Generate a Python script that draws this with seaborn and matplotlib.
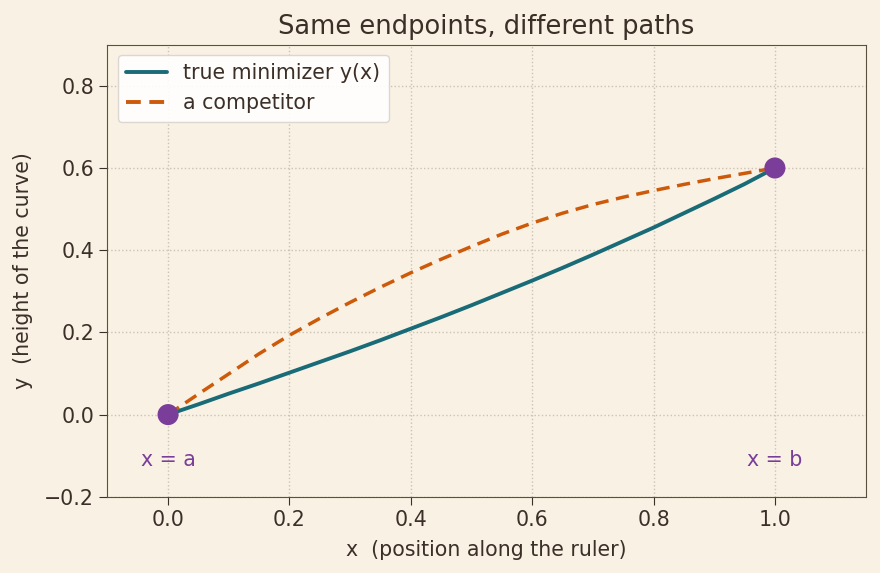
import numpy as np
import pandas as pd
import matplotlib
matplotlib.use("Agg")
import matplotlib.pyplot as plt
import seaborn as sns

# values
x_vals = [0.0, 0.05, 0.1, 0.15, 0.2, 0.25, 0.3, 0.35, 0.4, 0.45, 0.5,
          0.55, 0.6, 0.65, 0.7, 0.75, 0.8, 0.85, 0.9, 0.95, 1.0]
y_true = [0.0, 0.025, 0.051, 0.076, 0.102, 0.128, 0.154, 0.181, 0.209, 0.237, 0.266,
          0.296, 0.326, 0.357, 0.389, 0.422, 0.455, 0.490, 0.525, 0.561, 0.6]
y_comp = [0.0, 0.050, 0.099, 0.148, 0.193, 0.234, 0.273, 0.310, 0.345, 0.378, 0.409,
          0.439, 0.466, 0.490, 0.511, 0.529, 0.545, 0.560, 0.574, 0.587, 0.6]
end_x = [0.0, 1.0]
end_y = [0.0, 0.6]
end_labels = ["x = a", "x = b"]
yticks = [-0.2, 0.0, 0.2, 0.4, 0.6, 0.8]

bg = "#f9f2e4"
ink = "#3b2f27"
teal = "#1a6b78"
orange = "#cc5a0a"
purple = "#7a3d9a"
gridc = "#cbc3b5"

sns.set_style("ticks", {
    "axes.facecolor": bg,
    "figure.facecolor": bg,
    "axes.edgecolor": "#5b5040",
    "axes.grid": True,
    "grid.color": gridc,
    "grid.linestyle": ":",
    "text.color": ink,
    "axes.labelcolor": ink,
    "xtick.color": ink,
    "ytick.color": ink,
})
plt.rcParams["font.family"] = ["DejaVu Sans"]

df_true = pd.DataFrame({"x": x_vals, "y": y_true})
df_comp = pd.DataFrame({"x": x_vals, "y": y_comp})
df_end = pd.DataFrame({"x": end_x, "y": end_y})

fs = 14.8
dash = (0, (3.8, 2.2))

fig, ax = plt.subplots(figsize=(8.8, 5.73), dpi=100)

sns.lineplot(data=df_true, x="x", y="y", ax=ax, color=teal, lw=2.8,
             label="true minimizer y(x)", sort=False)
sns.lineplot(data=df_comp, x="x", y="y", ax=ax, color=orange, lw=2.5,
             label="a competitor", sort=False)
ax.lines[-1].set_linestyle(dash)
sns.scatterplot(data=df_end, x="x", y="y", ax=ax, color=purple, s=230,
                edgecolor="none", zorder=5)

for xe, lab in zip(end_x, end_labels):
    ax.text(xe, -0.11, lab, color=purple, fontsize=fs, ha="center", va="center")

ax.set_xlim(-0.1, 1.15)
ax.set_ylim(-0.2, 0.9)
ax.set_yticks(yticks)
ax.grid(True, linestyle=":", color=gridc, linewidth=1)
ax.tick_params(labelsize=fs, length=6)
ax.set_xlabel("x  (position along the ruler)", fontsize=fs, labelpad=7)
ax.set_ylabel("y  (height of the curve)", fontsize=fs, labelpad=8)
ax.set_title("Same endpoints, different paths", fontsize=18.5, color=ink, pad=8)

leg = ax.legend(loc="upper left", fontsize=fs, frameon=True, fancybox=True,
                facecolor="white", edgecolor="#d8d3cc", framealpha=0.9)
for line in leg.get_lines():
    line.set_linewidth(2.8)
leg.get_lines()[1].set_linestyle(dash)

fig.subplots_adjust(left=0.122, right=0.984, top=0.922, bottom=0.133)
fig.savefig("out.png", dpi=100, facecolor=bg)
